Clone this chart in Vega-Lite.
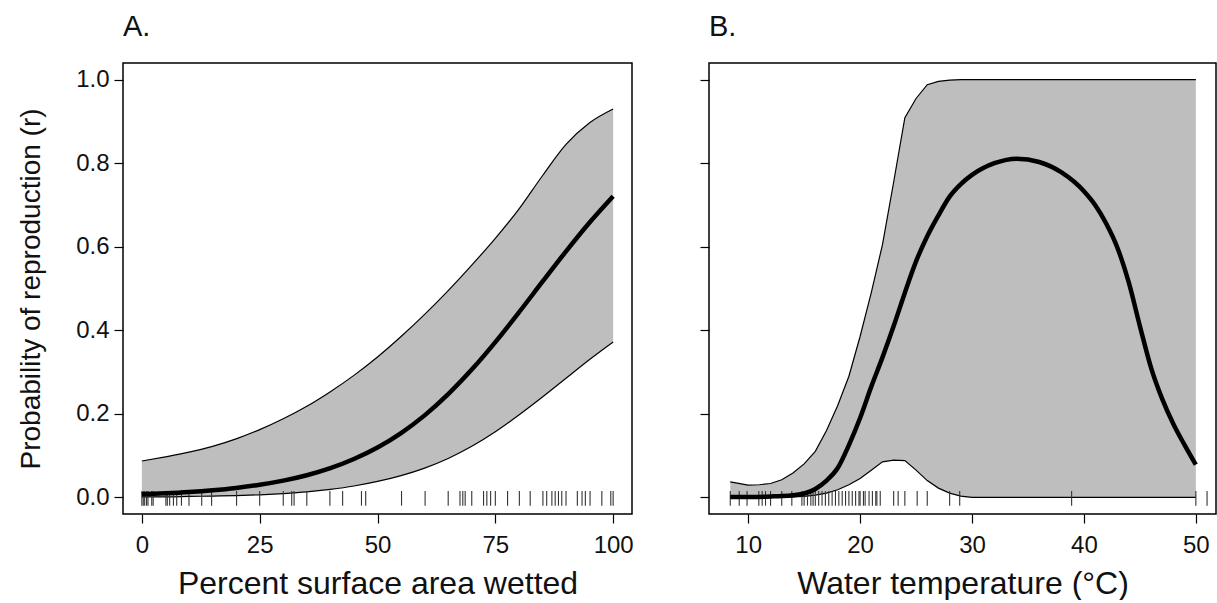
{
  "$schema": "https://vega.github.io/schema/vega-lite/v6.json",
  "background": "white",
  "padding": {"left": 16, "top": 12, "right": 0, "bottom": 0},
  "spacing": 64,
  "config": {
    "font": "Liberation Sans",
    "view": {"stroke": "black", "strokeWidth": 1.5},
    "axis": {
      "domain": false, "grid": false, "ticks": true, "tickColor": "black", "tickSize": 9, "tickWidth": 1.2,
      "labelFont": "Liberation Sans", "labelFontSize": 24, "labelColor": "#111",
      "titleFont": "Liberation Sans", "titleFontSize": 32, "titleFontWeight": "normal", "titleColor": "#111"
    },
    "title": {"font": "Liberation Sans", "fontSize": 29, "fontWeight": "normal", "color": "#111", "anchor": "start", "frame": "group", "baseline": "alphabetic", "offset": 21}
  },
  "datasets": {
    "bandA": [
      {"x": 0, "lo": 0.001, "m": 0.0070, "hi": 0.087},
      {"x": 5, "lo": 0.001, "m": 0.0094, "hi": 0.097},
      {"x": 10, "lo": 0.002, "m": 0.0126, "hi": 0.108},
      {"x": 15, "lo": 0.003, "m": 0.0169, "hi": 0.122},
      {"x": 20, "lo": 0.004, "m": 0.0225, "hi": 0.140},
      {"x": 25, "lo": 0.006, "m": 0.0300, "hi": 0.162},
      {"x": 30, "lo": 0.009, "m": 0.0399, "hi": 0.188},
      {"x": 35, "lo": 0.013, "m": 0.0529, "hi": 0.218},
      {"x": 40, "lo": 0.019, "m": 0.0698, "hi": 0.253},
      {"x": 45, "lo": 0.027, "m": 0.0916, "hi": 0.292},
      {"x": 50, "lo": 0.038, "m": 0.1192, "hi": 0.336},
      {"x": 55, "lo": 0.052, "m": 0.1538, "hi": 0.385},
      {"x": 60, "lo": 0.070, "m": 0.1962, "hi": 0.438},
      {"x": 65, "lo": 0.093, "m": 0.2470, "hi": 0.495},
      {"x": 70, "lo": 0.122, "m": 0.3058, "hi": 0.556},
      {"x": 75, "lo": 0.157, "m": 0.3717, "hi": 0.620},
      {"x": 80, "lo": 0.197, "m": 0.4427, "hi": 0.690},
      {"x": 85, "lo": 0.240, "m": 0.5162, "hi": 0.770},
      {"x": 90, "lo": 0.285, "m": 0.5890, "hi": 0.845},
      {"x": 95, "lo": 0.330, "m": 0.6581, "hi": 0.897},
      {"x": 100, "lo": 0.372, "m": 0.7211, "hi": 0.930}
    ],
    "rugA": [
      {"t": 0}, {"t": 0.3}, {"t": 0.6}, {"t": 1.0}, {"t": 1.3}, {"t": 2.1}, {"t": 2.4}, {"t": 5.1}, {"t": 5.4}, {"t": 5.9},
      {"t": 6.7}, {"t": 7.4}, {"t": 8.4}, {"t": 10}, {"t": 12.7}, {"t": 14.8}, {"t": 20.1}, {"t": 25}, {"t": 30}, {"t": 31.8},
      {"t": 32.3}, {"t": 35}, {"t": 39.9}, {"t": 42.6}, {"t": 46.6}, {"t": 47.5}, {"t": 55.1}, {"t": 60.1}, {"t": 65}, {"t": 67.5},
      {"t": 68.1}, {"t": 68.6}, {"t": 70}, {"t": 72.5}, {"t": 73.2}, {"t": 74}, {"t": 75}, {"t": 77.6}, {"t": 80.1}, {"t": 82.4},
      {"t": 85.1}, {"t": 85.9}, {"t": 87}, {"t": 87.7}, {"t": 88.4}, {"t": 89.1}, {"t": 90}, {"t": 92.4}, {"t": 93.4}, {"t": 94.1},
      {"t": 95.1}, {"t": 97.6}, {"t": 99.5}, {"t": 100}
    ],
    "bandB": [
      {"x": 8.4, "lo": 0, "m": 0.001, "hi": 0.037},
      {"x": 10, "lo": 0, "m": 0.001, "hi": 0.029},
      {"x": 11, "lo": 0, "m": 0.001, "hi": 0.030},
      {"x": 12, "lo": 0, "m": 0.002, "hi": 0.033},
      {"x": 13, "lo": 0, "m": 0.003, "hi": 0.042},
      {"x": 14, "lo": 0.001, "m": 0.005, "hi": 0.058},
      {"x": 15, "lo": 0.002, "m": 0.009, "hi": 0.080},
      {"x": 16, "lo": 0.005, "m": 0.020, "hi": 0.110},
      {"x": 17, "lo": 0.010, "m": 0.040, "hi": 0.160},
      {"x": 18, "lo": 0.018, "m": 0.070, "hi": 0.220},
      {"x": 19, "lo": 0.030, "m": 0.125, "hi": 0.290},
      {"x": 20, "lo": 0.045, "m": 0.190, "hi": 0.385},
      {"x": 21, "lo": 0.065, "m": 0.265, "hi": 0.490},
      {"x": 22, "lo": 0.085, "m": 0.335, "hi": 0.605},
      {"x": 23, "lo": 0.089, "m": 0.410, "hi": 0.755},
      {"x": 24, "lo": 0.088, "m": 0.490, "hi": 0.909},
      {"x": 25, "lo": 0.065, "m": 0.565, "hi": 0.955},
      {"x": 26, "lo": 0.040, "m": 0.625, "hi": 0.988},
      {"x": 27, "lo": 0.022, "m": 0.675, "hi": 0.996},
      {"x": 28, "lo": 0.010, "m": 0.720, "hi": 0.999},
      {"x": 29, "lo": 0.003, "m": 0.750, "hi": 1.0},
      {"x": 30, "lo": 0, "m": 0.772, "hi": 1.0},
      {"x": 32, "lo": 0, "m": 0.800, "hi": 1.0},
      {"x": 34, "lo": 0, "m": 0.811, "hi": 1.0},
      {"x": 36, "lo": 0, "m": 0.803, "hi": 1.0},
      {"x": 38, "lo": 0, "m": 0.778, "hi": 1.0},
      {"x": 40, "lo": 0, "m": 0.733, "hi": 1.0},
      {"x": 41, "lo": 0, "m": 0.700, "hi": 1.0},
      {"x": 42, "lo": 0, "m": 0.655, "hi": 1.0},
      {"x": 43, "lo": 0, "m": 0.597, "hi": 1.0},
      {"x": 44, "lo": 0, "m": 0.515, "hi": 1.0},
      {"x": 45, "lo": 0, "m": 0.410, "hi": 1.0},
      {"x": 46, "lo": 0, "m": 0.310, "hi": 1.0},
      {"x": 47, "lo": 0, "m": 0.235, "hi": 1.0},
      {"x": 48, "lo": 0, "m": 0.175, "hi": 1.0},
      {"x": 49, "lo": 0, "m": 0.125, "hi": 1.0},
      {"x": 50, "lo": 0, "m": 0.078, "hi": 1.0}
    ],
    "rugB": [
      {"t": 8.4}, {"t": 9.2}, {"t": 9.9}, {"t": 10.95}, {"t": 11.25}, {"t": 11.55}, {"t": 12.0}, {"t": 13.0}, {"t": 13.9}, {"t": 14.8},
      {"t": 15.0}, {"t": 15.3}, {"t": 15.6}, {"t": 15.8}, {"t": 16.0}, {"t": 16.3}, {"t": 16.6}, {"t": 16.9}, {"t": 17.2}, {"t": 17.5},
      {"t": 17.8}, {"t": 18.1}, {"t": 18.4}, {"t": 18.7}, {"t": 19.0}, {"t": 19.3}, {"t": 19.6}, {"t": 19.9}, {"t": 20.0}, {"t": 20.3},
      {"t": 20.45}, {"t": 20.8}, {"t": 21.1}, {"t": 21.4}, {"t": 21.5}, {"t": 21.8}, {"t": 23.0}, {"t": 23.4}, {"t": 24.0}, {"t": 25.1},
      {"t": 26.0}, {"t": 28.0}, {"t": 28.9}, {"t": 38.9}, {"t": 50.0}, {"t": 51.0}
    ]
  },
  "hconcat": [
    {
      "width": 509, "height": 451,
      "title": {"text": "A."},
      "layer": [
        {
          "data": {"name": "bandA"},
          "mark": {"type": "area", "color": "#bebebe", "opacity": 1, "interpolate": "monotone"},
          "encoding": {
            "x": {"field": "x", "type": "quantitative", "title": "Percent surface area wetted",
                  "scale": {"domain": [-4, 104], "nice": false, "zero": false},
                  "axis": {"values": [0, 25, 50, 75, 100], "labelPadding": 10, "titlePadding": 11}},
            "y": {"field": "lo", "type": "quantitative", "title": "Probability of reproduction (r)",
                  "scale": {"domain": [-0.04, 1.04], "nice": false, "zero": false},
                  "axis": {"values": [0, 0.2, 0.4, 0.6, 0.8, 1.0], "format": ".1f", "labelPadding": 5, "titlePadding": 30, "titleFontSize": 28}},
            "y2": {"field": "hi"}
          }
        },
        {
          "data": {"name": "bandA"},
          "mark": {"type": "line", "color": "black", "strokeWidth": 1.2, "interpolate": "monotone"},
          "encoding": {
            "x": {"field": "x", "type": "quantitative", "title": "Percent surface area wetted"},
            "y": {"field": "hi", "type": "quantitative", "title": "Probability of reproduction (r)"}
          }
        },
        {
          "data": {"name": "bandA"},
          "mark": {"type": "line", "color": "black", "strokeWidth": 1.2, "interpolate": "monotone"},
          "encoding": {
            "x": {"field": "x", "type": "quantitative", "title": "Percent surface area wetted"},
            "y": {"field": "lo", "type": "quantitative", "title": "Probability of reproduction (r)"}
          }
        },
        {
          "data": {"name": "rugA"},
          "mark": {"type": "rule", "color": "#333", "strokeWidth": 1.1},
          "encoding": {
            "x": {"field": "t", "type": "quantitative", "title": "Percent surface area wetted"},
            "y": {"datum": -0.02, "type": "quantitative"},
            "y2": {"datum": 0.015}
          }
        },
        {
          "data": {"name": "bandA"},
          "mark": {"type": "line", "color": "black", "strokeWidth": 4.5, "interpolate": "monotone"},
          "encoding": {
            "x": {"field": "x", "type": "quantitative", "title": "Percent surface area wetted"},
            "y": {"field": "m", "type": "quantitative", "title": "Probability of reproduction (r)"}
          }
        }
      ]
    },
    {
      "width": 507, "height": 451,
      "title": {"text": "B."},
      "layer": [
        {
          "data": {"name": "bandB"},
          "mark": {"type": "area", "color": "#bebebe", "opacity": 1},
          "encoding": {
            "x": {"field": "x", "type": "quantitative", "title": "Water temperature (°C)",
                  "scale": {"domain": [6.5, 51.8], "nice": false, "zero": false},
                  "axis": {"values": [10, 20, 30, 40, 50], "labelPadding": 10, "titlePadding": 11}},
            "y": {"field": "lo", "type": "quantitative", "title": null,
                  "scale": {"domain": [-0.04, 1.04], "nice": false, "zero": false},
                  "axis": {"values": [0, 0.2, 0.4, 0.6, 0.8, 1.0], "labels": false, "title": null}},
            "y2": {"field": "hi"}
          }
        },
        {
          "data": {"name": "bandB"},
          "mark": {"type": "line", "color": "black", "strokeWidth": 1.2},
          "encoding": {
            "x": {"field": "x", "type": "quantitative", "title": "Water temperature (°C)"},
            "y": {"field": "hi", "type": "quantitative", "title": null}
          }
        },
        {
          "data": {"name": "bandB"},
          "mark": {"type": "line", "color": "black", "strokeWidth": 1.2},
          "encoding": {
            "x": {"field": "x", "type": "quantitative", "title": "Water temperature (°C)"},
            "y": {"field": "lo", "type": "quantitative", "title": null}
          }
        },
        {
          "data": {"name": "rugB"},
          "mark": {"type": "rule", "color": "#333", "strokeWidth": 1.1},
          "encoding": {
            "x": {"field": "t", "type": "quantitative", "title": "Water temperature (°C)"},
            "y": {"datum": -0.02, "type": "quantitative"},
            "y2": {"datum": 0.015}
          }
        },
        {
          "data": {"name": "bandB"},
          "mark": {"type": "line", "color": "black", "strokeWidth": 4.5, "interpolate": "monotone"},
          "encoding": {
            "x": {"field": "x", "type": "quantitative", "title": "Water temperature (°C)"},
            "y": {"field": "m", "type": "quantitative", "title": null}
          }
        }
      ]
    }
  ]
}
